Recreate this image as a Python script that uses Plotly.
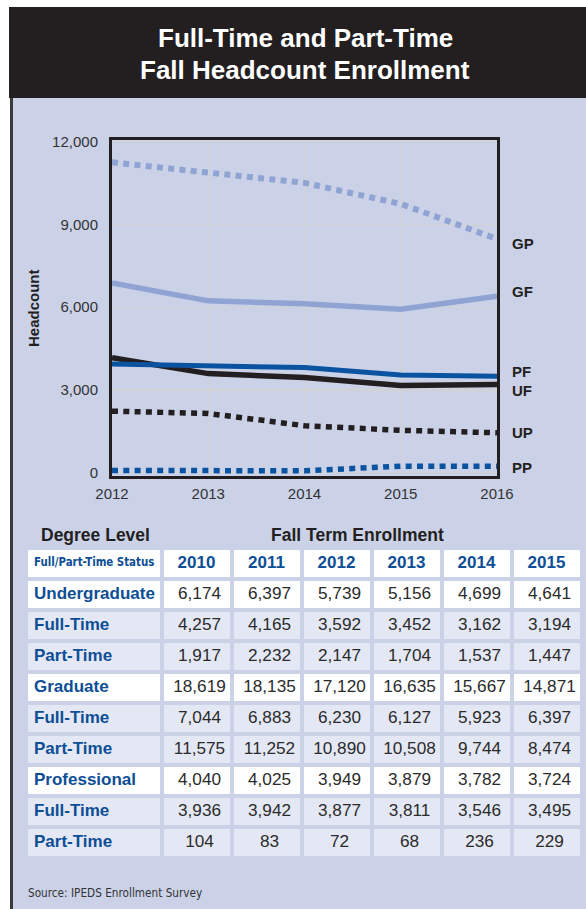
import plotly.graph_objects as go

W, H = 586, 909

# ---------------- data ----------------
table_years = ["2010", "2011", "2012", "2013", "2014", "2015"]
row_labels = ["Undergraduate", "Full-Time", "Part-Time", "Graduate", "Full-Time",
              "Part-Time", "Professional", "Full-Time", "Part-Time"]
row_is_total = [True, False, False, True, False, False, True, False, False]
undergrad_total = [6174, 6397, 5739, 5156, 4699, 4641]
undergrad_ft = [4257, 4165, 3592, 3452, 3162, 3194]
undergrad_pt = [1917, 2232, 2147, 1704, 1537, 1447]
grad_total = [18619, 18135, 17120, 16635, 15667, 14871]
grad_ft = [7044, 6883, 6230, 6127, 5923, 6397]
grad_pt = [11575, 11252, 10890, 10508, 9744, 8474]
prof_total = [4040, 4025, 3949, 3879, 3782, 3724]
prof_ft = [3936, 3942, 3877, 3811, 3546, 3495]
prof_pt = [104, 83, 72, 68, 236, 229]
status_header = "Full/Part-Time Status"

chart_years = [2012, 2013, 2014, 2015, 2016]
y_ticks = [0, 3000, 6000, 9000, 12000]
y_tick_text = ["0", "3,000", "6,000", "9,000", "12,000"]

# chart series (table columns 2011-2015 drawn at 2012-2016)
series = [
    ("GP", grad_pt[1:]),
    ("GF", grad_ft[1:]),
    ("UP", undergrad_pt[1:]),
    ("PP", prof_pt[1:]),
    ("UF", undergrad_ft[1:]),
    ("PF", prof_ft[1:]),
]
rows_data = [undergrad_total, undergrad_ft, undergrad_pt, grad_total, grad_ft,
             grad_pt, prof_total, prof_ft, prof_pt]

# ---------------- styles ----------------
LIGHT = "#8FA4D3"
DARK_BLUE = "#0A53A0"
BLACK = "#231F20"
PANEL = "#CBD2E8"
SUB = "#E4E8F4"
LABEL_BLUE = "#0D4E96"
TEXT = "#2B2B2B"
FONT = "Liberation Sans, Arial, sans-serif"
NARROW = "DejaVu Sans Condensed, Liberation Sans, sans-serif"

DOT = "6px,5.3px"
style = {
    "GP": dict(color=LIGHT, width=6, dash=DOT),
    "GF": dict(color=LIGHT, width=5.5, dash="solid"),
    "UP": dict(color=BLACK, width=5.5, dash=DOT),
    "PP": dict(color=DARK_BLUE, width=5.5, dash=DOT),
    "UF": dict(color=BLACK, width=5.5, dash="solid"),
    "PF": dict(color=DARK_BLUE, width=5, dash="solid"),
}
label_shift = {"GP": -5, "GF": 5, "PF": 5, "UF": -6, "UP": 0, "PP": -1}

fig = go.Figure()

for name, vals in series:
    fig.add_trace(go.Scatter(
        x=chart_years, y=vals, mode="lines", name=name,
        line=style[name], showlegend=False, hoverinfo="skip",
    ))

# ---------------- table (heatmap cells on pixel-like axes) ----------------
first_w, col_w, row_h = 135.5, 70, 31
x_edges = [0, first_w] + [first_w + col_w * (k + 1) for k in range(len(table_years))]
n_rows = len(row_labels) + 1
y_edges = [row_h * k for k in range(n_rows + 1)]
y_centers = [(y_edges[k] + y_edges[k + 1]) / 2 for k in range(n_rows)]

z = [[0] * (len(table_years) + 1)]
for tot in row_is_total:
    z.append([0 if tot else 1] * (len(table_years) + 1))

fig.add_trace(go.Heatmap(
    z=z, x=x_edges, y=y_edges, xaxis="x2", yaxis="y2",
    colorscale=[[0, "white"], [1, SUB]], zmin=0, zmax=1, showscale=False,
    xgap=4, ygap=4, hoverinfo="skip",
))

# first column labels
fig.add_trace(go.Scatter(
    x=[8] * n_rows, y=y_centers, xaxis="x2", yaxis="y2", mode="text",
    text=["<b>%s</b>" % status_header] + ["<b>%s</b>" % r for r in row_labels],
    textposition="middle right",
    textfont=dict(family=[NARROW] + [FONT] * len(row_labels),
                  size=[11.4] + [17] * len(row_labels), color=LABEL_BLUE),
    showlegend=False, hoverinfo="skip",
))
# year columns
for j, yr in enumerate(table_years):
    cx = (x_edges[j + 1] + x_edges[j + 2]) / 2
    fig.add_trace(go.Scatter(
        x=[cx] + [cx + 3] * len(row_labels), y=y_centers, xaxis="x2", yaxis="y2", mode="text",
        text=["<b>%s</b>" % yr] + ["{:,}".format(rows_data[i][j]) for i in range(len(row_labels))],
        textposition="middle center",
        textfont=dict(family=FONT, size=[17] + [17.2] * len(row_labels),
                      color=[LABEL_BLUE] + [TEXT] * len(row_labels)),
        showlegend=False, hoverinfo="skip",
    ))

# ---------------- layout ----------------
px = lambda x: x / W
py = lambda y: 1 - y / H

shapes = [
    dict(type="rect", xref="paper", yref="paper", x0=px(10), x1=1.01, y0=-0.01, y1=py(97),
         fillcolor=PANEL, line=dict(width=0), layer="below"),
    dict(type="rect", xref="paper", yref="paper", x0=px(10), x1=px(13), y0=-0.01, y1=py(97),
         fillcolor="#3A3A3A", line=dict(width=0), layer="below"),
    dict(type="rect", xref="paper", yref="paper", x0=px(9), x1=1.01, y0=py(98), y1=py(7),
         fillcolor=BLACK, line=dict(width=0), layer="below"),
]

annotations = [
    dict(text="<b>Full-Time and Part-Time</b>", xref="paper", yref="paper", x=px(305), y=py(38.5),
         xanchor="center", yanchor="middle", showarrow=False,
         font=dict(family=FONT, size=26, color="white")),
    dict(text="<b>Fall Headcount Enrollment</b>", xref="paper", yref="paper", x=px(305), y=py(69.5),
         xanchor="center", yanchor="middle", showarrow=False,
         font=dict(family=FONT, size=26, color="white")),
    dict(text="<b>Headcount</b>", xref="paper", yref="paper", x=px(33), y=py(308),
         xanchor="center", yanchor="middle", textangle=-90, showarrow=False,
         font=dict(family=FONT, size=15, color=BLACK)),
    dict(text="<b>Degree Level</b>", xref="paper", yref="paper", x=px(39), y=py(535),
         xanchor="left", yanchor="middle", showarrow=False,
         font=dict(family=FONT, size=17.5, color=BLACK)),
    dict(text="<b>Fall Term Enrollment</b>", xref="paper", yref="paper", x=px(357), y=py(535),
         xanchor="center", yanchor="middle", showarrow=False,
         font=dict(family=FONT, size=17.5, color=BLACK)),
    dict(text="Source: IPEDS Enrollment Survey", xref="paper", yref="paper", x=px(26), y=py(893),
         xanchor="left", yanchor="middle", showarrow=False,
         font=dict(family=NARROW, size=11.7, color="#333333")),
]
for name, vals in series:
    annotations.append(dict(
        text="<b>%s</b>" % name, xref="paper", yref="y", x=px(510), y=vals[-1],
        xanchor="left", yanchor="middle", yshift=label_shift[name], showarrow=False,
        font=dict(family=FONT, size=15, color=BLACK)))

fig.update_layout(
    template="none",
    width=W, height=H,
    margin=dict(l=0, r=0, t=0, b=0, pad=0, autoexpand=False),
    paper_bgcolor="white",
    plot_bgcolor="white",
    shapes=shapes,
    annotations=annotations,
    showlegend=False,
    xaxis=dict(domain=[px(112), px(497)], range=[2012, 2016], tickvals=chart_years,
               showgrid=True, gridcolor="#D2D2D2", gridwidth=1.3,
               showline=True, linecolor=BLACK, linewidth=3, mirror=True,
               ticks="", zeroline=False, fixedrange=True, automargin=False,
               ticklabelstandoff=2,
               tickfont=dict(family=FONT, size=15, color="#333333")),
    yaxis=dict(domain=[py(476), py(140)], range=[-120, 12062], tickvals=y_ticks, ticktext=y_tick_text,
               showgrid=True, gridcolor="#D2D2D2", gridwidth=1.3,
               showline=True, linecolor=BLACK, linewidth=3, mirror=True,
               ticks="", zeroline=False, fixedrange=True, automargin=False, ticklabelstandoff=8,
               tickfont=dict(family=FONT, size=15, color="#333333")),
    xaxis2=dict(domain=[px(26), px(581.5)], range=[0, x_edges[-1]], anchor="y2",
                visible=False, fixedrange=True, automargin=False),
    yaxis2=dict(domain=[py(548 + y_edges[-1]), py(548)], range=[y_edges[-1], 0], anchor="x2",
                visible=False, fixedrange=True, automargin=False),
)

fig.write_html(
    "out.html",
    config={"displayModeBar": False, "staticPlot": True},
    post_script="document.documentElement.style.margin='0';document.body.style.margin='0';"
                "document.body.style.overflow='hidden';",
)
